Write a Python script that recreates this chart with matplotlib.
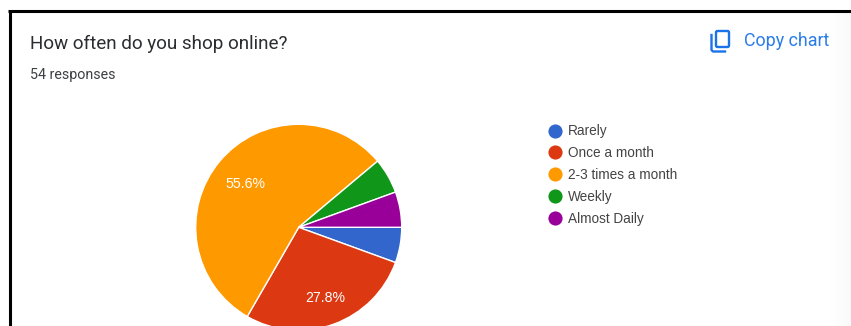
import matplotlib
matplotlib.use("Agg")
import matplotlib.pyplot as plt
import numpy as np
from matplotlib.patches import FancyBboxPatch, Rectangle
from matplotlib.lines import Line2D

W, H = 851, 326

title = "How often do you shop online?"
subtitle = "54 responses"
action = "Copy chart"
categories = ["Rarely", "Once a month", "2-3 times a month", "Weekly", "Almost Daily"]
responses = [3, 15, 30, 3, 3]
colors = ["#3366CC", "#DC3912", "#FF9900", "#109618", "#990099"]

fig = plt.figure(figsize=(W / 100, H / 100), dpi=100, facecolor="white")
plt.rcParams["font.family"] = ["Roboto", "DejaVu Sans"]

# Overlay in pixel units for the card furniture and legend
page = fig.add_axes([0, 0, 1, 1], zorder=1)
page.set_xlim(0, W)
page.set_ylim(H, 0)
page.axis("off")
page.patch.set_alpha(0)

# Card border, top and left edges only are in frame
page.add_patch(Rectangle((0, 0), W, 10, fc="white", ec="none"))
page.plot([9.5, 9.5], [H, 10.5], color="black", lw=2.2, solid_capstyle="butt")
page.plot([8, W], [11, 11], color="black", lw=2.2, solid_capstyle="butt")

# Faint shade along the right edge
shade = np.linspace(1, 0.975, 24).reshape(1, -1)
page.imshow(shade, extent=(827, W, H, 13), cmap="gray", vmin=0, vmax=1,
            aspect="auto", zorder=0)
page.set_xlim(0, W)
page.set_ylim(H, 0)

page.text(29.5, 44, title, fontsize=13.55, color="#2b2d30", va="center", ha="left")
page.text(29.5, 75.5, subtitle, fontsize=10.25, color="#3c4043", va="center", ha="left")
page.text(743.5, 41, action, fontsize=12.9, color="#2a7de9", va="center", ha="left",
          fontweight="regular")

# Copy icon: front sheet plus the L-shaped sheet behind it
page.add_patch(FancyBboxPatch((716, 31), 13, 16, boxstyle="round,pad=0,rounding_size=1.5",
                              fc="none", ec="#1a73e8", lw=1.7))
page.plot([711.5, 711.5, 713, 725], [35, 50, 51.5, 51.5], color="#1a73e8", lw=1.7,
          solid_joinstyle="round")

# Legend
for i, (name, col) in enumerate(zip(categories, colors)):
    y = 131 + i * 21.9
    page.add_line(Line2D([555], [y - 0.5], marker="o", ms=10.2, mfc=col, mec="none", ls="none"))
    page.text(567.5, y + 0.5, name, fontsize=9.85, color="#444444", va="center", ha="left",
              family=["Liberation Sans", "DejaVu Sans"])

# Pie, centred at (298.7, 227.3) with a 103 px radius; its foot runs off the figure
cx, cy, r = 298.7, 227.3, 103
pie_ax = fig.add_axes([(cx - r) / W, 1 - (cy + r) / H, 2 * r / W, 2 * r / H], zorder=2)
pie_ax.patch.set_alpha(0)
share = np.array(responses) / sum(responses) * 100
wedges, _ = pie_ax.pie(responses, colors=colors, startangle=0, counterclock=False, radius=1,
                       wedgeprops=dict(edgecolor="white", linewidth=1.0))
pie_ax.set_xlim(-1, 1)
pie_ax.set_ylim(-1, 1)

# Only the two large slices carry a percentage
for w, s in zip(wedges, share):
    if s > 10:
        mid = np.deg2rad((w.theta1 + w.theta2) / 2)
        pie_ax.annotate(f"{s:.1f}%", (0.70 * np.cos(mid), 0.70 * np.sin(mid)),
                        xytext=(1.5, -1.5), textcoords="offset pixels", color="white",
                        fontsize=10.2, ha="center", va="center_baseline",
                        family=["Liberation Sans", "DejaVu Sans"])

fig.savefig("out.png", dpi=100)
